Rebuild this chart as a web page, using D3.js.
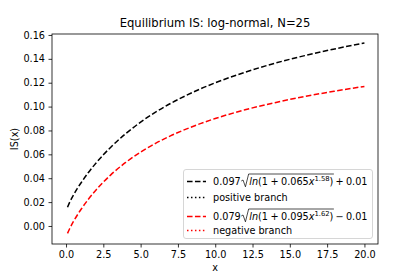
<!DOCTYPE html>
<html>
<head>
<meta charset="utf-8">
<script src="https://cdn.jsdelivr.net/npm/d3@7"></script>
<style>
  body { margin: 0; background: #fff; }
  svg { display: block; font-family: "DejaVu Sans", sans-serif; }
</style>
</head>
<body>
<svg id="chart" width="420" height="280"></svg>
<script>
// values
let xVals = [0.1, 0.25, 0.5, 0.75, 1, 1.5, 2, 2.5, 3, 4, 5, 6, 7, 8, 9, 10, 12, 14, 16, 18, 20]
let posVals = [0.0157, 0.0200, 0.0259, 0.0312, 0.0360, 0.0448, 0.0526, 0.0596, 0.0660, 0.0773, 0.0870,
  0.0953, 0.1026, 0.1090, 0.1148, 0.1199, 0.1288, 0.1363, 0.1427, 0.1483, 0.1532]
let negVals = [-0.0062, -0.0021, 0.0038, 0.0090, 0.0138, 0.0224, 0.0300, 0.0367, 0.0428, 0.0532, 0.0619,
  0.0692, 0.0755, 0.0809, 0.0857, 0.0900, 0.0973, 0.1033, 0.1085, 0.1129, 0.1169]
let xTicks = [0, 2.5, 5, 7.5, 10, 12.5, 15, 17.5, 20]
let yTicks = [0, 0.02, 0.04, 0.06, 0.08, 0.1, 0.12, 0.14, 0.16]

let w = 420, h = 280
let m = {left: 52, top: 34, right: 42, bottom: 36}
let fs = 9.7

let svg = d3.select('#chart')

let xScale = d3.scaleLinear().domain([-0.94, 20.91]).range([m.left, w - m.right])
let yScale = d3.scaleLinear().domain([-0.0151, 0.1608]).range([h - m.bottom, m.top])

//坐标轴
let xAxis = d3.axisBottom(xScale).tickValues(xTicks).tickFormat(d3.format('.1f'))
  .tickSize(3.5).tickPadding(3.5).tickSizeOuter(0)
let yAxis = d3.axisLeft(yScale).tickValues(yTicks).tickFormat(d3.format('.2f'))
  .tickSize(3.5).tickPadding(3.5).tickSizeOuter(0)

svg.append('g').attr('transform', `translate(0, ${h - m.bottom})`).call(xAxis)
svg.append('g').attr('transform', `translate(${m.left}, 0)`).call(yAxis)
svg.selectAll('.domain').remove()
svg.selectAll('.tick line').attr('stroke', '#000').attr('stroke-width', 0.8)
svg.selectAll('.tick text').attr('fill', '#000').attr('font-size', fs)
  .attr('font-family', '"DejaVu Sans", sans-serif')

//曲线
let line = d3.line()
  .x((d, i) => xScale(xVals[i]))
  .y(d => yScale(d))
  .curve(d3.curveMonotoneX)

svg.append('path').datum(posVals).attr('d', line)
  .attr('fill', 'none').attr('stroke', '#000').attr('stroke-width', 1.5)
  .attr('stroke-dasharray', '5.55,2.4')
svg.append('path').datum(negVals).attr('d', line)
  .attr('fill', 'none').attr('stroke', 'red').attr('stroke-width', 1.5)
  .attr('stroke-dasharray', '5.55,2.4')

//边框
svg.append('rect')
  .attr('x', m.left).attr('y', m.top)
  .attr('width', w - m.left - m.right).attr('height', h - m.top - m.bottom)
  .attr('fill', 'none').attr('stroke', '#000').attr('stroke-width', 0.8)

//标题和轴标签
svg.append('text').text('Equilibrium IS: log-normal, N=25')
  .attr('x', (m.left + w - m.right) / 2).attr('y', 27)
  .attr('text-anchor', 'middle').attr('font-size', 11.6)
svg.append('text').text('x')
  .attr('x', (m.left + w - m.right) / 2).attr('y', 271)
  .attr('text-anchor', 'middle').attr('font-size', fs)
svg.append('text').text('IS(x)')
  .attr('transform', `translate(18, ${(m.top + h - m.bottom) / 2}) rotate(-90)`)
  .attr('text-anchor', 'middle').attr('font-size', fs)

//图例
let lg = svg.append('g')
lg.append('rect')
  .attr('x', 183.5).attr('y', 169.5).attr('width', 189).attr('height', 69)
  .attr('rx', 2.5).attr('fill', '#fff').attr('fill-opacity', 0.8)
  .attr('stroke', '#cccccc').attr('stroke-width', 0.8)

let hx0 = 187, hx1 = 206, tx = 213
let sp = '\u2005'

function formula(y, coef, sign, a, p, c) {
  let t1 = lg.append('text').attr('x', tx).attr('y', y).attr('font-size', fs).text(coef)
  let x0 = tx + t1.node().getComputedTextLength() + 0.5
  let t2 = lg.append('text').attr('x', x0 + 8).attr('y', y).attr('font-size', fs)
  t2.append('tspan').attr('font-style', 'italic').text('ln')
  t2.append('tspan').text('(1' + sp + '+' + sp + a)
  t2.append('tspan').attr('font-style', 'italic').text('x')
  t2.append('tspan').attr('font-size', 6.8).attr('dy', -4).text(p)
  t2.append('tspan').attr('dy', 4).text(')')
  let x1 = x0 + 8 + t2.node().getComputedTextLength() + 0.5
  lg.append('path')
    .attr('d', `M${x0},${y - 4} L${x0 + 1.8},${y - 5} L${x0 + 4.2},${y + 1.8} L${x0 + 7.4},${y - 11} L${x1},${y - 11}`)
    .attr('fill', 'none').attr('stroke', '#000').attr('stroke-width', 0.7)
  lg.append('text').attr('x', x1 + 1.5).attr('y', y).attr('font-size', fs)
    .text(sign + sp + c)
}

function handle(y, color, dash) {
  lg.append('line').attr('x1', hx0).attr('x2', hx1).attr('y1', y).attr('y2', y)
    .attr('stroke', color).attr('stroke-width', 1.5).attr('stroke-dasharray', dash)
}

handle(181.5, '#000', '5.55,2.4')
formula(185, '0.097', '+', '0.065', '1.58', '0.01')
handle(197.5, '#000', '1.5,2.475')
lg.append('text').attr('x', tx).attr('y', 201).attr('font-size', fs).text('positive branch')
handle(216.5, 'red', '5.55,2.4')
formula(220, '0.079', '\u2212', '0.095', '1.62', '0.01')
handle(230.5, 'red', '1.5,2.475')
lg.append('text').attr('x', tx).attr('y', 234).attr('font-size', fs).text('negative branch')
</script>
</body>
</html>
